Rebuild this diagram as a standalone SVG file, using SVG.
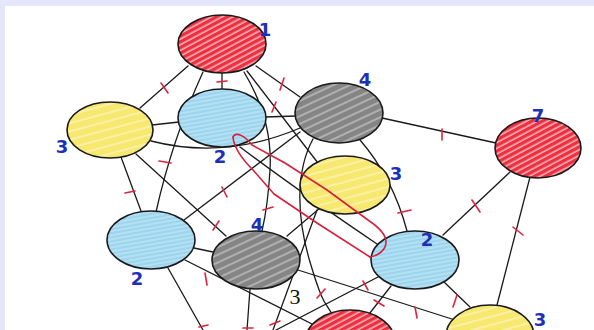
<svg xmlns="http://www.w3.org/2000/svg" width="594" height="330" viewBox="0 0 594 330">
<style>
.e{fill:none;stroke:#1a1a1a;stroke-width:1.3;stroke-linecap:round}
.t{fill:none;stroke:#e0233b;stroke-width:1.6;stroke-linecap:round}
.n{stroke:#1a1a1a;stroke-width:1.6}
.lb{font-family:"DejaVu Sans",sans-serif;font-weight:bold;font-size:18px;fill:#1e2fba;text-anchor:middle}
.hl{fill:none;stroke:#d81e3a;stroke-width:1.6;stroke-linejoin:round;stroke-linecap:round}
</style>
<defs>
<pattern id="red" patternUnits="userSpaceOnUse" width="5" height="5" patternTransform="rotate(62)"><rect width="5" height="5" fill="#f6b4b9"/><rect width="3.4" height="5" fill="#ee2f40"/></pattern>
<pattern id="gray" patternUnits="userSpaceOnUse" width="7" height="7" patternTransform="rotate(65)"><rect width="7" height="7" fill="#858585"/><rect width="2" height="7" fill="#b0b0b0"/></pattern>
<pattern id="blue" patternUnits="userSpaceOnUse" width="4" height="4" patternTransform="rotate(80)"><rect width="4" height="4" fill="#b4e0f3"/><rect width="2" height="4" fill="#9dd4ee"/></pattern>
<pattern id="yel" patternUnits="userSpaceOnUse" width="8" height="8" patternTransform="rotate(75)"><rect width="8" height="8" fill="#f7e870"/><rect width="2" height="8" fill="#faf0a6"/></pattern>
</defs>
<rect width="594" height="330" fill="#e6e6fa"/>
<rect x="5" y="6" width="589" height="324" fill="#ffffff"/>
<g id="connectors">
<line class="e" x1="188" y1="66" x2="140" y2="108"/>
<line class="e" x1="222" y1="72" x2="222" y2="90"/>
<path class="e" d="M203,72 Q172,140 156,212"/>
<line class="e" x1="256" y1="66" x2="300" y2="97"/>
<line class="e" x1="247" y1="71" x2="318" y2="163"/>
<path class="e" d="M244,72 Q273,120 270,170 Q268,205 262,231"/>
<line class="e" x1="152" y1="125" x2="179" y2="122"/>
<path class="e" d="M151,141 Q225,160 300,128"/>
<line class="e" x1="121" y1="157" x2="141" y2="211"/>
<line class="e" x1="136" y1="154" x2="226" y2="236"/>
<line class="e" x1="265" y1="117" x2="296" y2="116"/>
<line class="e" x1="382" y1="118" x2="496" y2="143"/>
<line class="e" x1="300" y1="132" x2="184" y2="220"/>
<path class="e" d="M313,139 C296,170 296,215 310,262 S325,300 333,316"/>
<path class="e" d="M360,140 Q393,178 407,231"/>
<line class="e" x1="510" y1="172" x2="443" y2="235"/>
<line class="e" x1="530" y1="177" x2="497" y2="305"/>
<line class="e" x1="444" y1="282" x2="470" y2="307"/>
<line class="e" x1="378" y1="277" x2="276" y2="330"/>
<line class="e" x1="391" y1="286" x2="366" y2="318"/>
<line class="e" x1="287" y1="236" x2="320" y2="208"/>
<line class="e" x1="298" y1="270" x2="455" y2="320"/>
<line class="e" x1="194" y1="248" x2="213" y2="252"/>
<line class="e" x1="185" y1="260" x2="324" y2="330"/>
<line class="e" x1="168" y1="268" x2="203" y2="330"/>
<line class="e" x1="250" y1="289" x2="247" y2="330"/>
<line class="e" x1="317" y1="210" x2="273" y2="330"/>
<path class="e" d="M240,147 Q300,192 377,244"/>
<g id="ticks">
<line class="t" x1="161" y1="83" x2="168" y2="93"/>
<line class="t" x1="217" y1="82" x2="227" y2="81"/>
<line class="t" x1="159" y1="161" x2="171" y2="163"/>
<line class="t" x1="284" y1="78" x2="280" y2="90"/>
<line class="t" x1="276" y1="102" x2="272" y2="112"/>
<line class="t" x1="263" y1="210" x2="273" y2="207"/>
<line class="t" x1="125" y1="193" x2="135" y2="191"/>
<line class="t" x1="219" y1="221" x2="213" y2="230"/>
<line class="t" x1="442" y1="129" x2="442" y2="140"/>
<line class="t" x1="222" y1="187" x2="227" y2="197"/>
<line class="t" x1="398" y1="213" x2="411" y2="210"/>
<line class="t" x1="472" y1="200" x2="480" y2="212"/>
<line class="t" x1="513" y1="227" x2="523" y2="235"/>
<line class="t" x1="457" y1="295" x2="453" y2="307"/>
<line class="t" x1="363" y1="281" x2="368" y2="290"/>
<line class="t" x1="317" y1="298" x2="325" y2="289"/>
<line class="t" x1="374" y1="300" x2="384" y2="306"/>
<line class="t" x1="415" y1="307" x2="417" y2="318"/>
<line class="t" x1="205" y1="273" x2="207" y2="285"/>
<line class="t" x1="199" y1="327" x2="208" y2="325"/>
<line class="t" x1="243" y1="328" x2="253" y2="328"/>
<line class="t" x1="270" y1="325" x2="280" y2="321"/>
</g>
</g>
<g id="node-A"><ellipse class="n" cx="222" cy="44" rx="44" ry="29" fill="url(#red)"/><text class="lb" x="265" y="36">1</text></g>
<g id="node-B"><ellipse class="n" cx="110" cy="130" rx="43" ry="28" fill="url(#yel)"/><text class="lb" x="62" y="153">3</text></g>
<g id="node-C"><ellipse class="n" cx="222" cy="118" rx="44" ry="29" fill="url(#blue)"/><text class="lb" x="220" y="163">2</text></g>
<g id="node-D"><ellipse class="n" cx="339" cy="113" rx="44" ry="30" fill="url(#gray)"/><text class="lb" x="365" y="86">4</text></g>
<g id="node-E"><ellipse class="n" cx="538" cy="148" rx="43" ry="30" fill="url(#red)"/><text class="lb" x="538" y="122">7</text></g>
<g id="node-F"><ellipse class="n" cx="345" cy="185" rx="45" ry="29" fill="url(#yel)"/><text class="lb" x="396" y="180">3</text></g>
<g id="node-G"><ellipse class="n" cx="415" cy="260" rx="44" ry="29" fill="url(#blue)"/><text class="lb" x="427" y="246">2</text></g>
<g id="node-H"><ellipse class="n" cx="151" cy="240" rx="44" ry="29" fill="url(#blue)"/><text class="lb" x="137" y="285">2</text></g>
<g id="node-I"><ellipse class="n" cx="256" cy="260" rx="44" ry="29" fill="url(#gray)"/><text class="lb" x="257" y="231">4</text></g>
<g id="node-J"><ellipse class="n" cx="350" cy="342" rx="45" ry="32" fill="url(#red)"/></g>
<g id="node-K"><ellipse class="n" cx="490" cy="336" rx="44" ry="31" fill="url(#yel)"/><text class="lb" x="540" y="326">3</text></g>
<g id="highlight">
<path class="hl" d="M233,137 C236,131 245,136 252,145 L285,163 L327,190 L368,220 C380,228 386,236 386,242 C386,250 378,256 370,257"/>
<path class="hl" d="M233,137 C234,148 243,160 253,170 L274,194 L317,223 L370,257"/>
</g>
<text x="295" y="304" font-family="Liberation Serif, serif" font-size="22" fill="#111" text-anchor="middle">3</text>
</svg>
